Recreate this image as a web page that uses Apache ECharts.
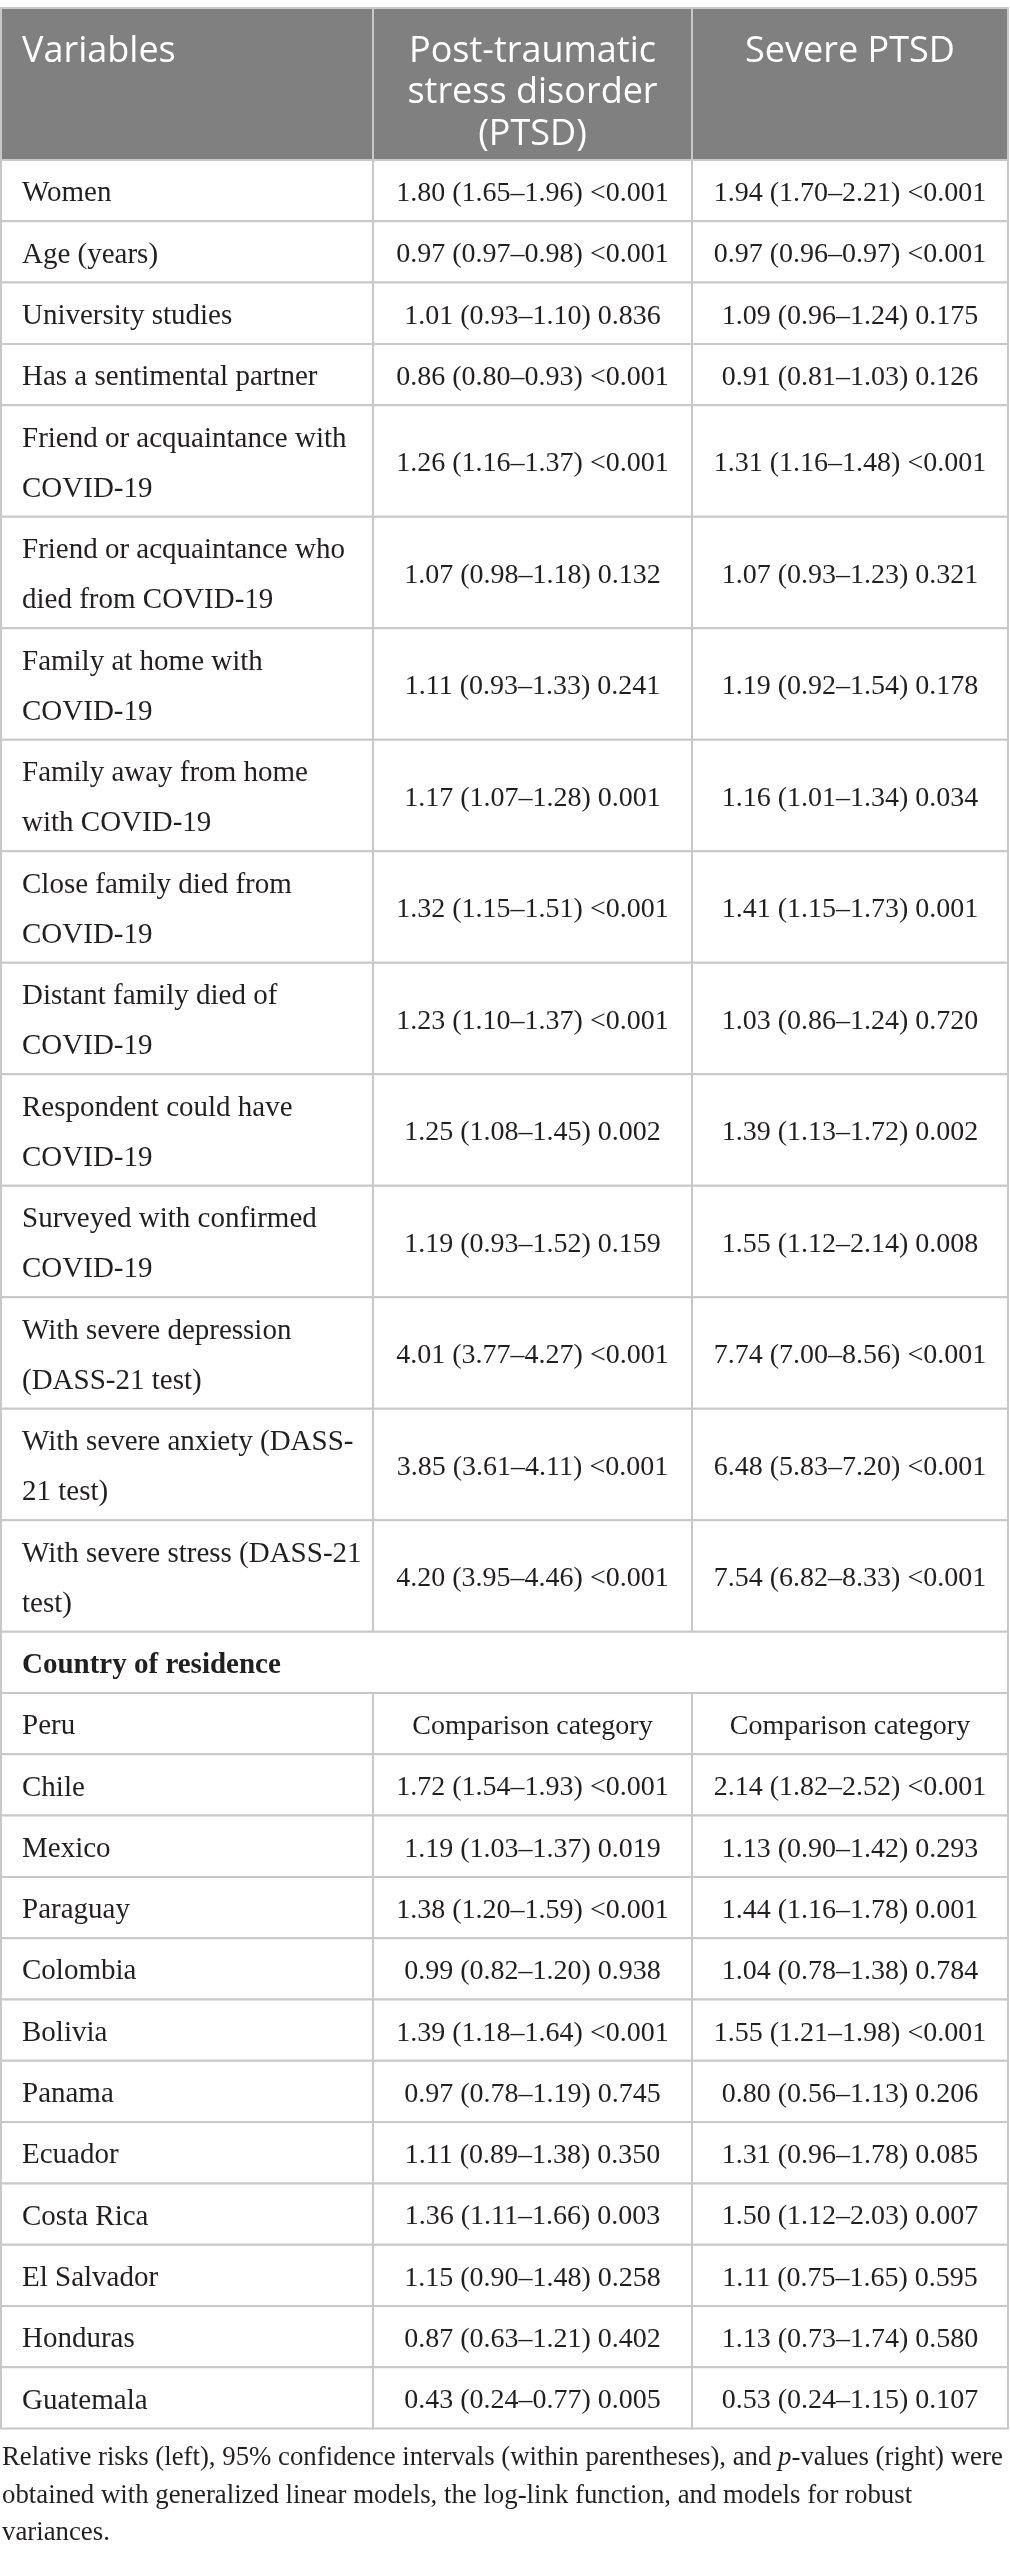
<!DOCTYPE html>
<html>
	<head>
		<meta charset="utf-8">
		<title>PTSD relative risks</title>
		<script src="https://cdn.jsdelivr.net/npm/echarts@6.0.0/dist/echarts.min.js" type="text/javascript" charset="utf-8"></script>
		<style>
			html, body { margin: 0; padding: 0; background: #fff; }
			#mainChart { width: 1010px; height: 2560px; }
		</style>
	</head>
	<body>
		<div id="mainChart"></div>
		<script type="text/javascript">
			// 表头
			var columnHeaders = ['Variables', 'Post-traumatic\nstress disorder\n(PTSD)', 'Severe PTSD'];

			// 变量行
			var variables = [
				'Women',
				'Age (years)',
				'University studies',
				'Has a sentimental partner',
				'Friend or acquaintance with\nCOVID-19',
				'Friend or acquaintance who\ndied from COVID-19',
				'Family at home with\nCOVID-19',
				'Family away from home\nwith COVID-19',
				'Close family died from\nCOVID-19',
				'Distant family died of\nCOVID-19',
				'Respondent could have\nCOVID-19',
				'Surveyed with confirmed\nCOVID-19',
				'With severe depression\n(DASS-21 test)',
				'With severe anxiety (DASS-\n21 test)',
				'With severe stress (DASS-21\ntest)'
			];
			var varPtsdRR = [1.80, 0.97, 1.01, 0.86, 1.26, 1.07, 1.11, 1.17, 1.32, 1.23, 1.25, 1.19, 4.01, 3.85, 4.20];
			var varPtsdLo = [1.65, 0.97, 0.93, 0.80, 1.16, 0.98, 0.93, 1.07, 1.15, 1.10, 1.08, 0.93, 3.77, 3.61, 3.95];
			var varPtsdHi = [1.96, 0.98, 1.10, 0.93, 1.37, 1.18, 1.33, 1.28, 1.51, 1.37, 1.45, 1.52, 4.27, 4.11, 4.46];
			var varPtsdP = ['<0.001', '<0.001', '0.836', '<0.001', '<0.001', '0.132', '0.241', '0.001', '<0.001', '<0.001', '0.002', '0.159', '<0.001', '<0.001', '<0.001'];
			var varSevRR = [1.94, 0.97, 1.09, 0.91, 1.31, 1.07, 1.19, 1.16, 1.41, 1.03, 1.39, 1.55, 7.74, 6.48, 7.54];
			var varSevLo = [1.70, 0.96, 0.96, 0.81, 1.16, 0.93, 0.92, 1.01, 1.15, 0.86, 1.13, 1.12, 7.00, 5.83, 6.82];
			var varSevHi = [2.21, 0.97, 1.24, 1.03, 1.48, 1.23, 1.54, 1.34, 1.73, 1.24, 1.72, 2.14, 8.56, 7.20, 8.33];
			var varSevP = ['<0.001', '<0.001', '0.175', '0.126', '<0.001', '0.321', '0.178', '0.034', '0.001', '0.720', '0.002', '0.008', '<0.001', '<0.001', '<0.001'];

			// 国家行 (Peru 为参照组)
			var sectionTitle = 'Country of residence';
			var referenceLabel = 'Comparison category';
			var countries = ['Peru', 'Chile', 'Mexico', 'Paraguay', 'Colombia', 'Bolivia', 'Panama', 'Ecuador', 'Costa Rica', 'El Salvador', 'Honduras', 'Guatemala'];
			var ctyPtsdRR = [null, 1.72, 1.19, 1.38, 0.99, 1.39, 0.97, 1.11, 1.36, 1.15, 0.87, 0.43];
			var ctyPtsdLo = [null, 1.54, 1.03, 1.20, 0.82, 1.18, 0.78, 0.89, 1.11, 0.90, 0.63, 0.24];
			var ctyPtsdHi = [null, 1.93, 1.37, 1.59, 1.20, 1.64, 1.19, 1.38, 1.66, 1.48, 1.21, 0.77];
			var ctyPtsdP = [null, '<0.001', '0.019', '<0.001', '0.938', '<0.001', '0.745', '0.350', '0.003', '0.258', '0.402', '0.005'];
			var ctySevRR = [null, 2.14, 1.13, 1.44, 1.04, 1.55, 0.80, 1.31, 1.50, 1.11, 1.13, 0.53];
			var ctySevLo = [null, 1.82, 0.90, 1.16, 0.78, 1.21, 0.56, 0.96, 1.12, 0.75, 0.73, 0.24];
			var ctySevHi = [null, 2.52, 1.42, 1.78, 1.38, 1.98, 1.13, 1.78, 2.03, 1.65, 1.74, 1.15];
			var ctySevP = [null, '<0.001', '0.293', '0.001', '0.784', '<0.001', '0.206', '0.085', '0.007', '0.595', '0.580', '0.107'];

			var footnote = 'Relative risks (left), 95% confidence intervals (within parentheses), and {i|p}-values (right) were\nobtained with generalized linear models, the log-link function, and models for robust\nvariances.';

			// 版式
			var colEdges = [1, 373, 692, 1008];
			var headerHeight = 152;
			var singleHeight = 61.3;
			var doubleHeight = 111.5;
			var tableTop = 8;
			var serif = '"Liberation Serif", "Times New Roman", serif';
			var sans = '"Open Sans", "Noto Sans", sans-serif';
			var textColor = '#231f20';
			var lineColor = '#c8c8c8';

			function fmt(rr, lo, hi, p) {
				if (rr === null) return referenceLabel;
				return rr.toFixed(2) + ' (' + lo.toFixed(2) + '\u2013' + hi.toFixed(2) + ') ' + p;
			}

			// 组装行
			var rows = [];
			rows.push({ kind: 'header', cells: columnHeaders });
			for (var i = 0; i < variables.length; i++) {
				rows.push({ kind: 'body', cells: [variables[i],
					fmt(varPtsdRR[i], varPtsdLo[i], varPtsdHi[i], varPtsdP[i]),
					fmt(varSevRR[i], varSevLo[i], varSevHi[i], varSevP[i])] });
			}
			rows.push({ kind: 'section', cells: [sectionTitle] });
			for (var j = 0; j < countries.length; j++) {
				rows.push({ kind: 'body', cells: [countries[j],
					fmt(ctyPtsdRR[j], ctyPtsdLo[j], ctyPtsdHi[j], ctyPtsdP[j]),
					fmt(ctySevRR[j], ctySevLo[j], ctySevHi[j], ctySevP[j])] });
			}

			var rowTop = [0];
			rows.forEach(function (r) {
				var h;
				if (r.kind === 'header') h = headerHeight;
				else h = r.cells[0].split('\n').length > 1 ? doubleHeight : singleHeight;
				rowTop.push(rowTop[rowTop.length - 1] + h);
			});
			var tableHeight = rowTop[rowTop.length - 1];

			var cells = [];
			rows.forEach(function (r, ri) {
				if (r.kind === 'section') {
					cells.push({ r: ri, c0: 0, c1: 3, text: r.cells[0], kind: 'section', col: 0 });
				} else {
					r.cells.forEach(function (t, ci) {
						cells.push({ r: ri, c0: ci, c1: ci + 1, text: t, kind: r.kind, col: ci });
					});
				}
			});

			function renderCell(params, api) {
				var cell = cells[params.dataIndex];
				var p0 = api.coord([colEdges[cell.c0], rowTop[cell.r]]);
				var p1 = api.coord([colEdges[cell.c1], rowTop[cell.r + 1]]);
				var x0 = p0[0], y0 = p0[1], x1 = p1[0], y1 = p1[1];
				var isHead = cell.kind === 'header';
				var textStyle;
				if (isHead) {
					textStyle = {
						text: cell.text,
						x: cell.col === 0 ? x0 + 21 : (x0 + x1) / 2,
						y: y0 + 22.5,
						align: cell.col === 0 ? 'left' : 'center',
						verticalAlign: 'top',
						fontFamily: sans,
						fontSize: 36,
						lineHeight: 41.5,
						fill: '#ffffff'
					};
				} else {
					textStyle = {
						text: cell.text,
						x: cell.col === 0 ? x0 + 21 : (x0 + x1) / 2,
						y: (y0 + y1) / 2 + 3,
						align: cell.col === 0 ? 'left' : 'center',
						verticalAlign: 'middle',
						fontFamily: serif,
						// 左列文字略宽，数字列保持 28
						fontSize: cell.col === 0 ? 29 : 28,
						fontWeight: cell.kind === 'section' ? 'bold' : 'normal',
						lineHeight: 50,
						fill: textColor
					};
				}
				return {
					type: 'group',
					children: [{
						type: 'rect',
						shape: { x: x0, y: y0, width: x1 - x0, height: y1 - y0 },
						style: { fill: isHead ? '#7f807f' : '#ffffff', stroke: lineColor, lineWidth: 2 }
					}, {
						type: 'text',
						style: textStyle
					}]
				};
			}

			var dom = document.getElementById('mainChart');
			var myChart = echarts.init(dom);
			var option = {
				animation: false,
				backgroundColor: '#ffffff',
				grid: { left: 0, right: 0, top: tableTop, height: tableHeight },
				xAxis: { type: 'value', min: 0, max: 1010, show: false },
				yAxis: { type: 'value', min: 0, max: tableHeight, inverse: true, show: false },
				series: [{
					type: 'custom',
					silent: true,
					clip: false,
					renderItem: renderCell,
					encode: { x: 0, y: 1 },
					data: cells.map(function (c) { return [colEdges[c.c0], rowTop[c.r]]; })
				}],
				graphic: [{
					type: 'text',
					left: 2,
					top: tableTop + tableHeight + 11,
					silent: true,
					style: {
						text: footnote,
						fontFamily: serif,
						fontSize: 26.8,
						lineHeight: 37.5,
						fill: textColor,
						rich: {
							i: { fontFamily: serif, fontSize: 26.8, lineHeight: 37.5, fontStyle: 'italic', fill: textColor }
						}
					}
				}]
			};
			myChart.setOption(option, true);
		</script>
	</body>
</html>
